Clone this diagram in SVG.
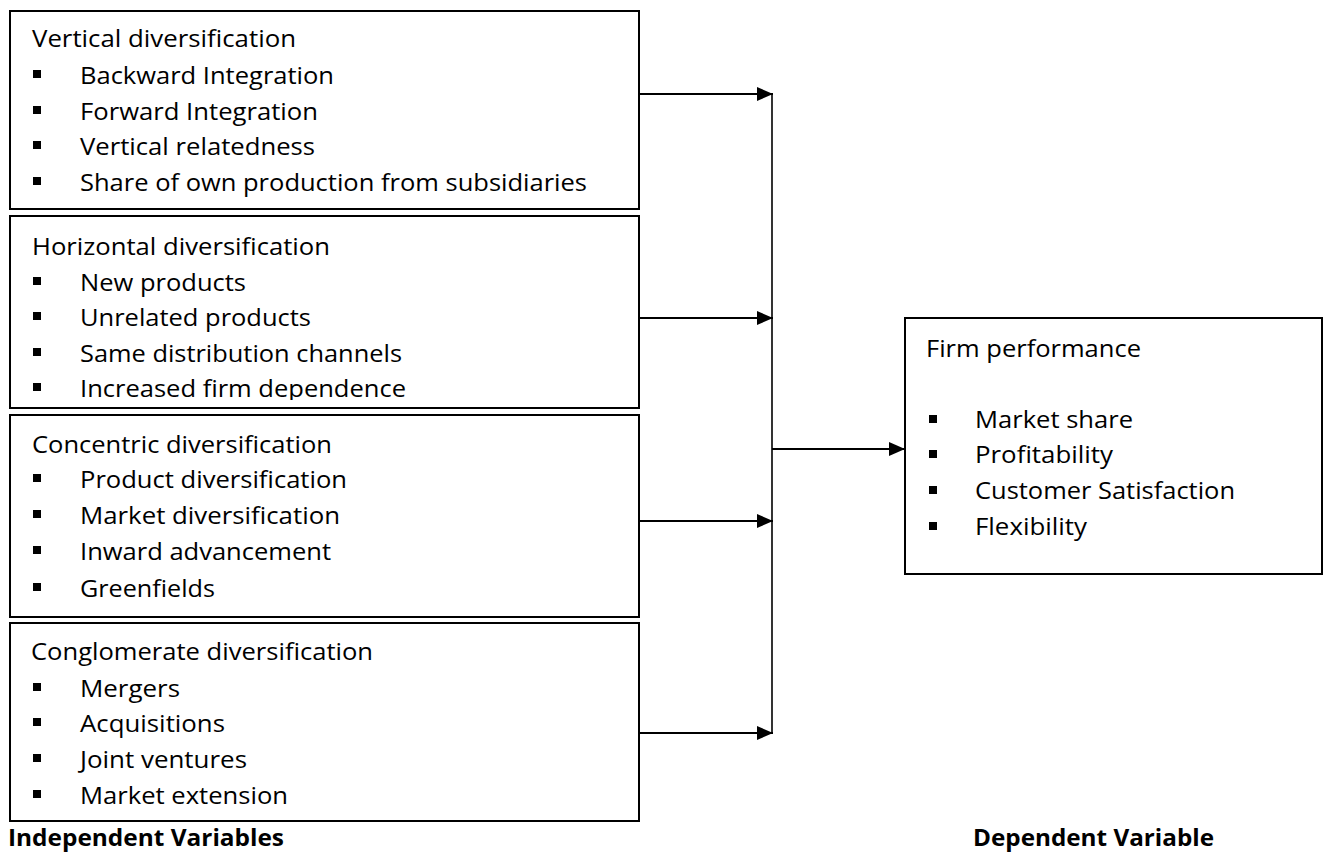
<svg xmlns="http://www.w3.org/2000/svg" width="1325" height="854" viewBox="0 0 1325 854">
<style>
.box{fill:#fff;stroke:#000;stroke-width:2}
.t{font-family:"Open Sans","Liberation Sans",sans-serif;font-size:24px;fill:#000}
.b{font-family:"Open Sans","Liberation Sans",sans-serif;font-size:24px;font-weight:bold;fill:#000}
.blt{fill:#000}
.ln{stroke:#000;stroke-width:2.2;fill:none}
</style>
<defs>
<marker id="ah" markerUnits="userSpaceOnUse" markerWidth="16" markerHeight="14" refX="16" refY="7" orient="auto">
<path d="M0,0 L16,7 L0,14 Z" fill="#000"/>
</marker>
<clipPath id="c2"><rect x="10" y="216" width="629" height="184"/></clipPath>
</defs>
<rect width="1325" height="854" fill="#fff"/>
<g id="connectors">
<line class="ln" x1="639" y1="94" x2="773" y2="94" marker-end="url(#ah)"/>
<line class="ln" x1="639" y1="318" x2="773" y2="318" marker-end="url(#ah)"/>
<line class="ln" x1="639" y1="521" x2="773" y2="521" marker-end="url(#ah)"/>
<line class="ln" x1="639" y1="733" x2="773" y2="733" marker-end="url(#ah)"/>
<line x1="772" y1="94" x2="772" y2="733" stroke="#000" stroke-width="1.6"/>
<line class="ln" x1="772" y1="449" x2="905" y2="449" marker-end="url(#ah)"/>
</g>
<g id="vertical">
<rect class="box" x="10" y="11" width="629" height="198"/>
<text class="t" x="32" y="47" textLength="264" lengthAdjust="spacingAndGlyphs">Vertical diversification</text>
<rect class="blt" x="33" y="70" width="8" height="8"/><text class="t" x="80" y="84" textLength="254" lengthAdjust="spacingAndGlyphs">Backward Integration</text>
<rect class="blt" x="33" y="106" width="8" height="8"/><text class="t" x="80" y="120" textLength="238" lengthAdjust="spacingAndGlyphs">Forward Integration</text>
<rect class="blt" x="33" y="141" width="8" height="8"/><text class="t" x="80" y="155" textLength="235" lengthAdjust="spacingAndGlyphs">Vertical relatedness</text>
<rect class="blt" x="33" y="177" width="8" height="8"/><text class="t" x="80" y="191" textLength="507" lengthAdjust="spacingAndGlyphs">Share of own production from subsidiaries</text>
</g>
<g id="horizontal">
<rect class="box" x="10" y="216" width="629" height="192"/>
<g clip-path="url(#c2)">
<text class="t" x="32" y="255" textLength="298" lengthAdjust="spacingAndGlyphs">Horizontal diversification</text>
<rect class="blt" x="33" y="277" width="8" height="8"/><text class="t" x="80" y="291" textLength="166" lengthAdjust="spacingAndGlyphs">New products</text>
<rect class="blt" x="33" y="312" width="8" height="8"/><text class="t" x="80" y="326" textLength="231" lengthAdjust="spacingAndGlyphs">Unrelated products</text>
<rect class="blt" x="33" y="348" width="8" height="8"/><text class="t" x="80" y="362" textLength="322" lengthAdjust="spacingAndGlyphs">Same distribution channels</text>
<rect class="blt" x="33" y="383" width="8" height="8"/><text class="t" x="80" y="397" textLength="326" lengthAdjust="spacingAndGlyphs">Increased firm dependence</text>
</g>
</g>
<g id="concentric">
<rect class="box" x="10" y="415" width="629" height="202"/>
<text class="t" x="32" y="453" textLength="300" lengthAdjust="spacingAndGlyphs">Concentric diversification</text>
<rect class="blt" x="33" y="474" width="8" height="8"/><text class="t" x="80" y="488" textLength="267" lengthAdjust="spacingAndGlyphs">Product diversification</text>
<rect class="blt" x="33" y="510" width="8" height="8"/><text class="t" x="80" y="524" textLength="260" lengthAdjust="spacingAndGlyphs">Market diversification</text>
<rect class="blt" x="33" y="546" width="8" height="8"/><text class="t" x="80" y="560" textLength="251" lengthAdjust="spacingAndGlyphs">Inward advancement</text>
<rect class="blt" x="33" y="583" width="8" height="8"/><text class="t" x="80" y="597" textLength="135" lengthAdjust="spacingAndGlyphs">Greenfields</text>
</g>
<g id="conglomerate">
<rect class="box" x="10" y="623" width="629" height="198"/>
<text class="t" x="31" y="660" textLength="342" lengthAdjust="spacingAndGlyphs">Conglomerate diversification</text>
<rect class="blt" x="33" y="683" width="8" height="8"/><text class="t" x="80" y="697" textLength="100" lengthAdjust="spacingAndGlyphs">Mergers</text>
<rect class="blt" x="33" y="718" width="8" height="8"/><text class="t" x="80" y="732" textLength="145" lengthAdjust="spacingAndGlyphs">Acquisitions</text>
<rect class="blt" x="33" y="754" width="8" height="8"/><text class="t" x="80" y="768" textLength="167" lengthAdjust="spacingAndGlyphs">Joint ventures</text>
<rect class="blt" x="33" y="790" width="8" height="8"/><text class="t" x="80" y="804" textLength="208" lengthAdjust="spacingAndGlyphs">Market extension</text>
</g>
<g id="firm">
<rect class="box" x="905" y="318" width="417" height="256"/>
<text class="t" x="926" y="357" textLength="215" lengthAdjust="spacingAndGlyphs">Firm performance</text>
<rect class="blt" x="929" y="415" width="8" height="8"/><text class="t" x="975" y="428" textLength="158" lengthAdjust="spacingAndGlyphs">Market share</text>
<rect class="blt" x="929" y="450" width="8" height="8"/><text class="t" x="975" y="463" textLength="138" lengthAdjust="spacingAndGlyphs">Profitability</text>
<rect class="blt" x="929" y="486" width="8" height="8"/><text class="t" x="975" y="499" textLength="260" lengthAdjust="spacingAndGlyphs">Customer Satisfaction</text>
<rect class="blt" x="929" y="522" width="8" height="8"/><text class="t" x="975" y="535" textLength="112" lengthAdjust="spacingAndGlyphs">Flexibility</text>
</g>
<g id="labels">
<text class="b" x="8" y="846" textLength="276" lengthAdjust="spacingAndGlyphs">Independent Variables</text>
<text class="b" x="973" y="846" textLength="241" lengthAdjust="spacingAndGlyphs">Dependent Variable</text>
</g>
</svg>
